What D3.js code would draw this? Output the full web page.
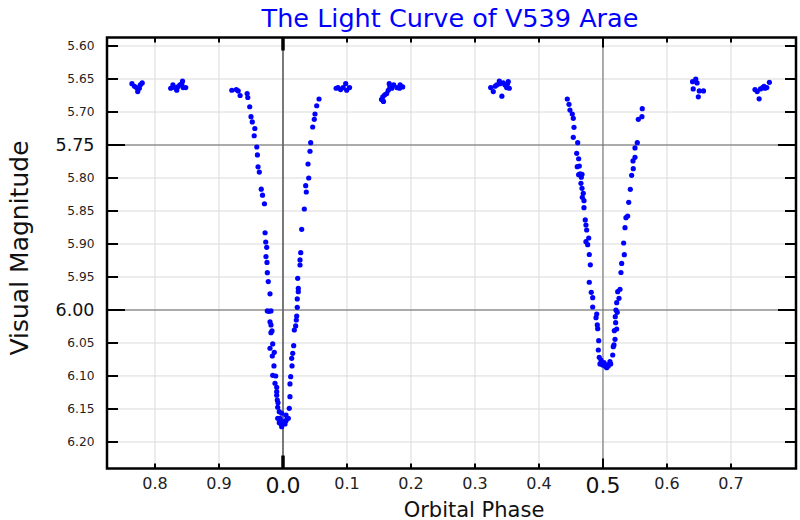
<!DOCTYPE html>
<html>
<head>
<meta charset="utf-8">
<script src="https://cdn.jsdelivr.net/npm/d3@7/dist/d3.min.js"></script>
<style>
  html, body { margin: 0; padding: 0; background: #fff; }
  svg { display: block; font-family: "DejaVu Sans", sans-serif; }
</style>
</head>
<body>
<svg id="chart" width="800" height="520"></svg>
<script>
// ---------------- DATA ----------------
// Phase is plotted on an unwrapped axis (-0.275 .. 0.80); labels are shown modulo 1.
const xTickValues = [-0.2, -0.1, 0.0, 0.1, 0.2, 0.3, 0.4, 0.5, 0.6, 0.7];
const xTickLabels = ["0.8", "0.9", "0.0", "0.1", "0.2", "0.3", "0.4", "0.5", "0.6", "0.7"];
const xMajorTicks = [0.0, 0.5];

const yTickValues = [5.60, 5.65, 5.70, 5.75, 5.80, 5.85, 5.90, 5.95, 6.00, 6.05, 6.10, 6.15, 6.20];
const yTickLabels = ["5.60", "5.65", "5.70", "5.75", "5.80", "5.85", "5.90", "5.95", "6.00", "6.05", "6.10", "6.15", "6.20"];
const yMajorTicks = [5.75, 6.00];

// Out-of-eclipse (maximum light) observations
const maxPhase = [
  -0.236, -0.232, -0.229, -0.227, -0.2245, -0.223, -0.220,
  -0.1755, -0.172, -0.169, -0.166, -0.1645, -0.161, -0.158, -0.157, -0.156, -0.152,
  0.083, 0.086, 0.090, 0.094, 0.098, 0.0995, 0.104,
  0.154, 0.157, 0.156, 0.159, 0.162, 0.1645, 0.166, 0.167, 0.170, 0.173, 0.178, 0.182, 0.187, 0.183,
  0.3245, 0.3286, 0.3313, 0.334, 0.338, 0.339, 0.342, 0.344, 0.347, 0.3495, 0.352, 0.3536, 0.3505,
  0.640, 0.645, 0.647, 0.641, 0.6505, 0.657, 0.649,
  0.7375, 0.741, 0.744, 0.746, 0.7495, 0.753, 0.756, 0.760, 0.7516
];
const maxMag = [
  5.657, 5.661, 5.663, 5.669, 5.664, 5.659, 5.656,
  5.664, 5.659, 5.663, 5.667, 5.662, 5.659, 5.657, 5.653, 5.663, 5.663,
  5.664, 5.663, 5.666, 5.663, 5.657, 5.667, 5.663,
  5.681, 5.684, 5.677, 5.674, 5.672, 5.667, 5.657, 5.662, 5.664, 5.659, 5.663, 5.664, 5.662, 5.659,
  5.663, 5.669, 5.661, 5.659, 5.653, 5.657, 5.676, 5.656, 5.659, 5.663, 5.654, 5.664, 5.658,
  5.654, 5.650, 5.656, 5.665, 5.668, 5.668, 5.677,
  5.666, 5.669, 5.680, 5.665, 5.663, 5.664, 5.663, 5.655, 5.661
];

// Primary eclipse (around phase 0.0)
const primaryPhase = [
  -0.080, -0.073, -0.070, -0.067, -0.056, -0.055, -0.052, -0.050, -0.048, -0.044,
  -0.045, -0.041, -0.040, -0.039, -0.037, -0.034, -0.032, -0.029, -0.028, -0.027,
  -0.0255, -0.0266, -0.025, -0.0245, -0.023, -0.0203, -0.0245, -0.0219, -0.0188, -0.0203,
  -0.0188, -0.0172, -0.0188, -0.0161, -0.0203, -0.0136, -0.0167, -0.0141, -0.0161, -0.0114,
  -0.0125, -0.0098, -0.0098, -0.0098, -0.0089, -0.0078, -0.0083, -0.0058, -0.0020, -0.0083,
  -0.0047, -0.0058, -0.0031, -0.0020, 0.0005, 0.0031, 0.0067, 0.0047,
  0.0083, 0.0047, 0.0098, 0.0109, 0.0109, 0.0120, 0.0141, 0.0136, 0.0152, 0.0167,
  0.0177, 0.0198, 0.0208, 0.0214, 0.0223, 0.0223, 0.0239, 0.0239, 0.0230, 0.0266,
  0.0266, 0.0277, 0.0292, 0.0333, 0.0364, 0.0355, 0.0402, 0.0391, 0.0422, 0.0433,
  0.0464, 0.0489, 0.0500, 0.0527, 0.0563
];
const primaryMag = [
  5.667, 5.666, 5.668, 5.675, 5.672, 5.678, 5.692, 5.707, 5.715, 5.725,
  5.736, 5.753, 5.765, 5.783, 5.791, 5.817, 5.826, 5.839, 5.883, 5.897,
  5.905, 5.919, 5.928, 5.9435, 5.957, 5.9755, 6.0015, 6.002, 6.0015, 6.018,
  6.0227, 6.0318, 6.0344, 6.0515, 6.058, 6.0641, 6.0697, 6.0848, 6.099, 6.100,
  6.111, 6.1171, 6.1238, 6.1292, 6.1364, 6.1405, 6.1474, 6.1541, 6.1565, 6.1641,
  6.1641, 6.1708, 6.1727, 6.1768, 6.1692, 6.1727, 6.1641, 6.1591,
  6.1641, 6.1677, 6.149, 6.1314, 6.1121, 6.1011, 6.0848, 6.0732, 6.0656, 6.0541,
  6.0303, 6.0242, 6.0152, 6.0091, 5.9959, 5.9833, 5.9723, 5.9671, 5.952, 5.9318,
  5.9242, 5.9132, 5.8777, 5.847, 5.8212, 5.8117, 5.800, 5.7788, 5.7595, 5.7465,
  5.7227, 5.7111, 5.703, 5.6905, 5.6803
];

// Secondary eclipse (around phase 0.5)
const secondaryPhase = [
  0.4442, 0.4469, 0.4484, 0.4520, 0.4536, 0.4547, 0.4536, 0.4605, 0.4589, 0.4620,
  0.4598, 0.4630, 0.4641, 0.4620, 0.4672, 0.4661, 0.4656, 0.4672, 0.4692, 0.4677,
  0.4703, 0.4703, 0.4723, 0.4734, 0.4745, 0.4777, 0.4734, 0.4761, 0.4786, 0.4802,
  0.4786, 0.4817, 0.4839, 0.4839, 0.4902, 0.4891, 0.4911, 0.4917, 0.4933, 0.4927,
  0.4942, 0.4969, 0.4953, 0.4995, 0.5016, 0.5031, 0.5058, 0.5067,
  0.5083, 0.5120, 0.5109, 0.5152, 0.5161, 0.5172, 0.5188, 0.5177, 0.5214, 0.5198,
  0.5192, 0.5223, 0.5203, 0.5214, 0.5250, 0.5230, 0.5266, 0.5281, 0.5292, 0.5333,
  0.5323, 0.5344, 0.5359, 0.5386, 0.5402, 0.5427, 0.5448, 0.5473, 0.5469, 0.5500,
  0.5500, 0.5536, 0.5552, 0.5609, 0.5614
];
const secondaryMag = [
  5.6803, 5.6883, 5.697, 5.703, 5.7095, 5.7232, 5.7383, 5.7465, 5.7626, 5.7708,
  5.7829, 5.7818, 5.7939, 5.795, 5.7944, 5.7989, 5.808, 5.8156, 5.8232, 5.8292,
  5.8344, 5.845, 5.8636, 5.8712, 5.8788, 5.8909, 5.8965, 5.9011, 5.9159, 5.9315,
  5.958, 5.9732, 5.9814, 5.9955, 6.0061, 6.0117, 6.0227, 6.0283, 6.0465, 6.0606,
  6.0717, 6.0758, 6.0818, 6.0833, 6.0798, 6.0848, 6.0874, 6.0833,
  6.0848, 6.0818, 6.0783, 6.0682, 6.0556, 6.053, 6.0444, 6.0314, 6.0288, 6.0192,
  6.0102, 6.0035, 6.000, 5.9889, 5.9823, 5.9723, 5.9686, 5.9432, 5.9295, 5.9162,
  5.8985, 5.8753, 5.8601, 5.8576, 5.8368, 5.8171, 5.7959, 5.7859, 5.7742, 5.7686,
  5.7545, 5.7465, 5.7111, 5.7071, 5.695
];

// ---------------- CHART ----------------
const svg = d3.select("#chart");
const pLeft = 107, pRight = 796, pTop = 37.5, pBottom = 468.5;

const x = d3.scaleLinear().domain([-0.275, 0.8016]).range([pLeft, pRight]);
const y = d3.scaleLinear().domain([5.5871, 6.2402]).range([pTop, pBottom]);

const isMajorX = v => xMajorTicks.some(m => Math.abs(m - v) < 1e-9);
const isMajorY = v => yMajorTicks.some(m => Math.abs(m - v) < 1e-9);

// Grid
const grid = svg.append("g");
grid.selectAll("line.gx").data(xTickValues).join("line")
  .attr("x1", d => x(d)).attr("x2", d => x(d))
  .attr("y1", pTop).attr("y2", pBottom)
  .attr("stroke", "#dadada").attr("stroke-width", 1);
grid.selectAll("line.gy").data(yTickValues).join("line")
  .attr("x1", pLeft).attr("x2", pRight)
  .attr("y1", d => y(d)).attr("y2", d => y(d))
  .attr("stroke", "#dadada").attr("stroke-width", 1);

// Emphasised reference lines
grid.append("line")
  .attr("x1", x(0)).attr("x2", x(0)).attr("y1", pTop).attr("y2", pBottom)
  .attr("stroke", "#3a3a3a").attr("stroke-width", 1.3);
grid.append("line")
  .attr("x1", x(0.5)).attr("x2", x(0.5)).attr("y1", pTop).attr("y2", pBottom)
  .attr("stroke", "#808080").attr("stroke-width", 1.2);
grid.selectAll("line.my").data(yMajorTicks).join("line")
  .attr("x1", pLeft).attr("x2", pRight)
  .attr("y1", d => y(d)).attr("y2", d => y(d))
  .attr("stroke", "#6a6a6a").attr("stroke-width", 1.2);

// Points
const pts = [];
maxPhase.forEach((p, i) => pts.push([p, maxMag[i]]));
primaryPhase.forEach((p, i) => pts.push([p, primaryMag[i]]));
secondaryPhase.forEach((p, i) => pts.push([p, secondaryMag[i]]));
svg.append("g").selectAll("circle").data(pts).join("circle")
  .attr("cx", d => x(d[0])).attr("cy", d => y(d[1]))
  .attr("r", 2.6).attr("fill", "#0000ff");

// Frame
svg.append("rect")
  .attr("x", pLeft).attr("y", pTop)
  .attr("width", pRight - pLeft).attr("height", pBottom - pTop)
  .attr("fill", "none").attr("stroke", "#000").attr("stroke-width", 2.5);

// Ticks (inward)
const tk = svg.append("g").attr("stroke", "#000");
xTickValues.forEach(v => {
  const major0 = Math.abs(v) < 1e-9;
  const maj = isMajorX(v);
  const len = major0 ? 13 : (maj ? 10 : 5);
  const w = major0 ? 3.5 : 2;
  tk.append("line").attr("x1", x(v)).attr("x2", x(v))
    .attr("y1", pTop).attr("y2", pTop + len).attr("stroke-width", w);
  tk.append("line").attr("x1", x(v)).attr("x2", x(v))
    .attr("y1", pBottom).attr("y2", pBottom - len).attr("stroke-width", w);
});
yTickValues.forEach(v => {
  const len = isMajorY(v) ? 18 : 11;
  tk.append("line").attr("x1", pLeft).attr("x2", pLeft + len)
    .attr("y1", y(v)).attr("y2", y(v)).attr("stroke-width", 2);
  tk.append("line").attr("x1", pRight).attr("x2", pRight - len)
    .attr("y1", y(v)).attr("y2", y(v)).attr("stroke-width", 2);
});

// Tick labels
const lab = svg.append("g").attr("fill", "#222");
yTickValues.forEach((v, i) => {
  const maj = isMajorY(v);
  lab.append("text")
    .attr("x", 94.5).attr("y", y(v))
    .attr("text-anchor", "end").attr("dominant-baseline", "central")
    .attr("font-size", maj ? 17.5 : 12.2)
    .attr("fill", maj ? "#111" : "#222")
    .text(yTickLabels[i]);
});
xTickValues.forEach((v, i) => {
  const maj = isMajorX(v);
  lab.append("text")
    .attr("x", x(v)).attr("y", maj ? 493.3 : 488.7)
    .attr("text-anchor", "middle")
    .attr("font-size", maj ? 22 : 16)
    .attr("fill", maj ? "#111" : "#222")
    .text(xTickLabels[i]);
});

// Title and axis labels
svg.append("text")
  .attr("x", 450).attr("y", 27)
  .attr("text-anchor", "middle").attr("font-size", 25.5)
  .attr("fill", "#0000ff")
  .text("The Light Curve of V539 Arae");

svg.append("text")
  .attr("transform", "translate(28,248) rotate(-90)")
  .attr("text-anchor", "middle").attr("font-size", 25)
  .attr("fill", "#111")
  .text("Visual Magnitude");

svg.append("text")
  .attr("x", 474).attr("y", 516.5)
  .attr("text-anchor", "middle").attr("font-size", 21)
  .attr("fill", "#111")
  .text("Orbital Phase");
</script>
</body>
</html>
